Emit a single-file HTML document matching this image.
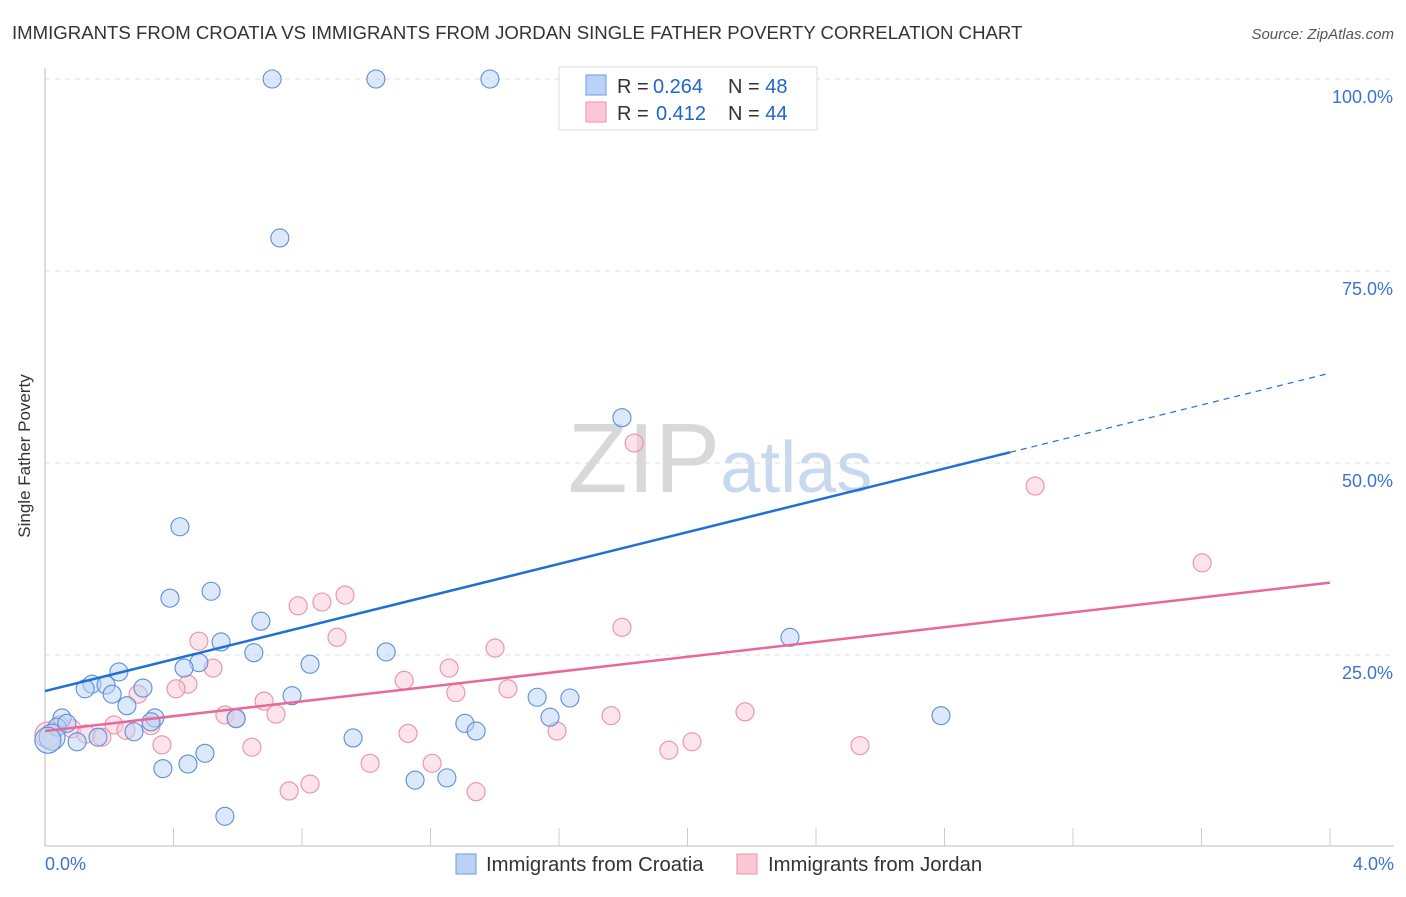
<!DOCTYPE html>
<html><head><meta charset="utf-8"><style>
body{margin:0;background:#fff;font-family:"Liberation Sans",sans-serif}
svg text{font-family:"Liberation Sans",sans-serif}
</style></head><body>
<svg width="1406" height="892">
<text x="12" y="39" font-size="18.6" fill="#333">IMMIGRANTS FROM CROATIA VS IMMIGRANTS FROM JORDAN SINGLE FATHER POVERTY CORRELATION CHART</text>
<text x="1394" y="39" font-size="15" fill="#555" font-style="italic" text-anchor="end">Source: ZipAtlas.com</text>
<text x="30" y="456" font-size="17" fill="#333" transform="rotate(-90 30 456)" text-anchor="middle">Single Father Poverty</text>
<text x="720" y="492" font-size="98" fill="#ddd" text-anchor="middle" font-family="Liberation Serif"><tspan fill="#d8d8d8">ZIP</tspan><tspan fill="#c8d8ee" font-family="Liberation Sans" font-size="72">atlas</tspan></text>
<g id="grid"></g><g id="pts"></g><g id="lines"></g>
<g>
<rect x="559" y="67" width="258" height="63" fill="#fff" stroke="#ddd"/>
<rect x="586" y="75" width="20" height="20" fill="#b8d3f5" stroke="#6a9ce0"/>
<rect x="586" y="102" width="20" height="20" fill="#fcc8d6" stroke="#eb8fab"/>
<text x="617" y="93" font-size="20" fill="#333">R = <tspan fill="#1f66cc" x="653">0.264</tspan><tspan x="728">N = </tspan><tspan fill="#1f66cc">48</tspan></text>
<text x="617" y="120" font-size="20" fill="#333">R = <tspan fill="#1f66cc" x="656">0.412</tspan><tspan x="728">N = </tspan><tspan fill="#1f66cc">44</tspan></text>
</g>
<text x="45" y="870" font-size="18" fill="#3b73d1">0.0%</text>
<text x="1394" y="870" font-size="18" fill="#3b73d1" text-anchor="end">4.0%</text>
<g>
<rect x="456" y="854" width="20" height="20" fill="#b8d3f5" stroke="#6a9ce0"/>
<text x="486" y="871" font-size="20.3" fill="#333">Immigrants from Croatia</text>
<rect x="737" y="854" width="20" height="20" fill="#fcc8d6" stroke="#eb8fab"/>
<text x="768" y="871" font-size="20.3" fill="#333">Immigrants from Jordan</text>
</g>
</svg>
<script>
const yTicks=[25,50,75,100];
const yTickLabels=["25.0%","50.0%","75.0%","100.0%"];
const blueX=[0.707,1.030,1.385,0.731,1.796,0.420,0.517,0.389,0.672,0.548,0.650,1.062,2.319,0.479,0.433,0.825,0.230,0.146,0.125,0.190,0.305,0.209,0.769,1.532,1.634,0.255,0.342,0.330,0.595,1.307,1.342,1.572,2.789,0.053,0.037,0.022,0.009,0.277,0.165,0.100,0.959,0.498,0.445,0.367,1.152,1.251,0.560,0.068];
const blueY=[100,100,100,79.3,55.9,41.7,33.3,32.4,29.4,26.7,25.3,25.4,27.3,24.0,23.3,23.8,22.8,21.2,20.6,21.1,20.7,19.9,19.7,19.5,19.4,18.4,16.8,16.3,16.7,16.1,15.1,16.9,17.1,16.8,15.6,14.3,13.9,15.0,14.3,13.7,14.2,12.2,10.8,10.2,8.7,9.0,4.0,16.1];
const pinkX=[1.834,3.082,3.602,0.934,0.862,0.788,1.796,0.479,0.909,1.401,0.523,1.258,1.118,0.445,0.408,0.290,1.279,1.441,0.682,2.179,0.560,0.719,1.762,0.595,0.215,0.330,0.252,0.044,0.084,0.128,0.177,1.130,1.594,0.364,0.644,2.014,1.942,2.537,1.012,1.205,0.825,0.760,1.342,0.009];
const pinkY=[52.6,47.0,37.0,32.8,31.9,31.4,28.6,26.8,27.3,25.9,23.3,23.3,21.7,21.2,20.6,19.9,20.1,20.6,19.0,17.6,17.2,17.3,17.1,16.8,15.9,15.8,15.2,15.9,15.4,14.7,14.3,14.8,15.1,13.3,13.0,13.7,12.6,13.2,10.9,10.9,8.2,7.3,7.2,14.6];
const blueTrend=[20.3,10.35];
const pinkTrend=[15.1,4.83];
const X=v=>45+v/4*1285, Y=v=>847-v/100*768;
const NS="http://www.w3.org/2000/svg";
function mk(tag,attrs,parent){const e=document.createElementNS(NS,tag);for(const k in attrs)e.setAttribute(k,attrs[k]);parent.appendChild(e);return e;}
const g=document.getElementById('grid');
yTicks.forEach((t,i)=>{
 const l=mk('line',{x1:45,x2:1394,y1:Y(t),y2:Y(t),stroke:'#ddd','stroke-dasharray':'5,5'},g);
 
 
 const tx=mk('text',{x:1393,y:Y(t)+24,'font-size':18,fill:'#3b73d1','text-anchor':'end'},g);
 tx.textContent=yTickLabels[i];
 
 
});
const ax=mk('line',{x1:45,x2:45,y1:68,y2:846,stroke:'#bbb'},g);


const bx=mk('line',{x1:45,x2:1394,y1:846,y2:846,stroke:'#bbb'},g);


for(let i=1;i<=10;i++){const t=mk('line',{x1:X(i*0.4),x2:X(i*0.4),y1:828,y2:846,stroke:'#ccc'},g);
 
 }
const p=document.getElementById('pts');
function pts(xs,ys,fill,stroke,name){xs.forEach((x,i)=>{
 const r=(x<0.03)?13:9;
 const c=mk('circle',{cx:X(x),cy:Y(ys[i]),r:r,fill:fill,'fill-opacity':0.5,stroke:stroke,'stroke-width':1.1},p);
 
 });}
pts(pinkX,pinkY,'#fcc8d6','#eb8fab','jordan-point');
pts(blueX,blueY,'#b8d3f5','#5b8fd8','croatia-point');
const L=document.getElementById('lines');
const bEnd=3.004;
const b1=mk('line',{x1:X(0),y1:Y(blueTrend[0]),x2:X(bEnd),y2:Y(blueTrend[0]+blueTrend[1]*bEnd),stroke:'#1f6fd6','stroke-width':2.5},L);


const b2=mk('line',{x1:X(bEnd),y1:Y(blueTrend[0]+blueTrend[1]*bEnd),x2:X(4),y2:Y(blueTrend[0]+blueTrend[1]*4),stroke:'#1f6fd6','stroke-width':1.2,'stroke-dasharray':'6,5'},L);


const p1=mk('line',{x1:X(0),y1:Y(pinkTrend[0]),x2:X(4),y2:Y(pinkTrend[0]+pinkTrend[1]*4),stroke:'#e8689a','stroke-width':2.5},L);


</script>
</body></html>
